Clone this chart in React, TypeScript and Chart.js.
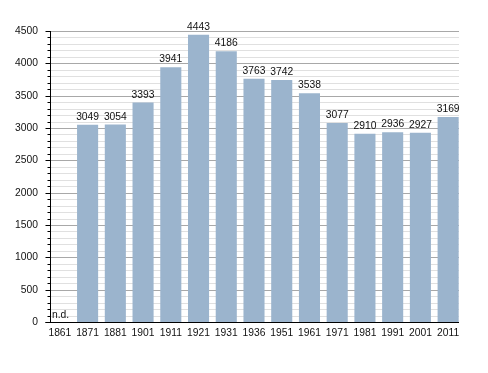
import React, { useEffect, useRef } from "react";
import { Chart, registerables } from "chart.js";

Chart.register(...registerables);

const years = ["1861", "1871", "1881", "1901", "1911", "1921", "1931", "1936", "1951", "1961", "1971", "1981", "1991", "2001", "2011"];
const population: (number | null)[] = [null, 3049, 3054, 3393, 3941, 4443, 4186, 3763, 3742, 3538, 3077, 2910, 2936, 2927, 3169];
const yMax = 4500;
const majorStep = 500;
const minorStep = 100;
const missingLabel = "n.d.";

const FONT = "'Liberation Sans', Arial, sans-serif";
const FONT_SIZE = 10.3;

const gridPlugin = {
  id: "gridPlugin",
  beforeDatasetsDraw(chart: any) {
    const { ctx, chartArea, scales } = chart;
    const y = scales.y;
    const ax = Math.round(chartArea.left) + 4;
    const rx = Math.round(chartArea.right) - 3;
    ctx.save();
    ctx.lineWidth = 1;
    for (let v = minorStep; v <= yMax; v += minorStep) {
      const py = Math.round(y.getPixelForValue(v)) + 0.5;
      ctx.strokeStyle = v % majorStep === 0 ? "#a8a8a8" : "#e0e0e0";
      ctx.beginPath();
      ctx.moveTo(ax, py);
      ctx.lineTo(rx, py);
      ctx.stroke();
    }
    ctx.restore();
  },
  afterDatasetsDraw(chart: any) {
    const { ctx, chartArea, scales } = chart;
    const y = scales.y;
    const ax = Math.round(chartArea.left) + 4;
    const rx = Math.round(chartArea.right) - 3;
    const by = Math.round(y.getPixelForValue(0)) + 0.5;
    ctx.save();
    ctx.font = `${FONT_SIZE}px ${FONT}`;
    ctx.fillStyle = "#111";
    ctx.textBaseline = "alphabetic";
    const meta = chart.getDatasetMeta(0);
    population.forEach((v, i) => {
      const el = meta.data[i];
      if (v === null || v === undefined) {
        ctx.textAlign = "left";
        ctx.fillText(missingLabel, ax + 2, by - 4.5);
      } else {
        ctx.textAlign = "center";
        ctx.fillText(String(v), el.x, el.y - 5);
      }
    });
    ctx.strokeStyle = "#000";
    ctx.lineWidth = 1;
    const lx = ax + 0.5;
    ctx.beginPath();
    ctx.moveTo(lx, Math.round(y.getPixelForValue(yMax)));
    ctx.lineTo(lx, by);
    ctx.moveTo(lx - 5, by);
    ctx.lineTo(rx, by);
    for (let v = 0; v <= yMax; v += minorStep) {
      const py = Math.round(y.getPixelForValue(v)) + 0.5;
      const len = v % majorStep === 0 ? 5 : 3;
      ctx.moveTo(lx - len, py);
      ctx.lineTo(lx, py);
    }
    ctx.stroke();
    ctx.restore();
  },
};

export default function App() {
  const ref = useRef<HTMLCanvasElement | null>(null);
  useEffect(() => {
    if (!ref.current) return;
    const chart = new Chart(ref.current, {
      type: "bar",
      data: {
        labels: years,
        datasets: [
          {
            data: population,
            backgroundColor: "#9bb4cd",
            borderWidth: 0,
            categoryPercentage: 1,
            barPercentage: 0.76,
          },
        ],
      },
      options: {
        animation: false,
        responsive: false,
        maintainAspectRatio: false,
        layout: { padding: { top: 31, right: 26, left: 0, bottom: 0 } },
        plugins: { legend: { display: false }, tooltip: { enabled: false } },
        scales: {
          x: {
            grid: { display: false, drawTicks: false },
            border: { display: false },
            ticks: { color: "#111", font: { family: FONT, size: FONT_SIZE }, padding: 5, maxRotation: 0, autoSkip: false },
            afterFit(scale: any) {
              scale.height = 51;
            },
          },
          y: {
            min: 0,
            max: yMax,
            grid: { display: false, drawTicks: false },
            border: { display: false },
            ticks: {
              stepSize: majorStep,
              autoSkip: false,
              padding: 8,
              color: "#111",
              font: { family: FONT, size: FONT_SIZE },
              callback: (v: any) => String(v),
            },
            afterFit(scale: any) {
              scale.width = 46;
            },
          },
        },
      },
      plugins: [gridPlugin],
    });
    return () => chart.destroy();
  }, []);
  return (
    <div style={{ position: "absolute", left: 0, top: 0, width: 488, height: 373, background: "#fff" }}>
      <canvas ref={ref} width={488} height={373} style={{ width: 488, height: 373 }} />
    </div>
  );
}
